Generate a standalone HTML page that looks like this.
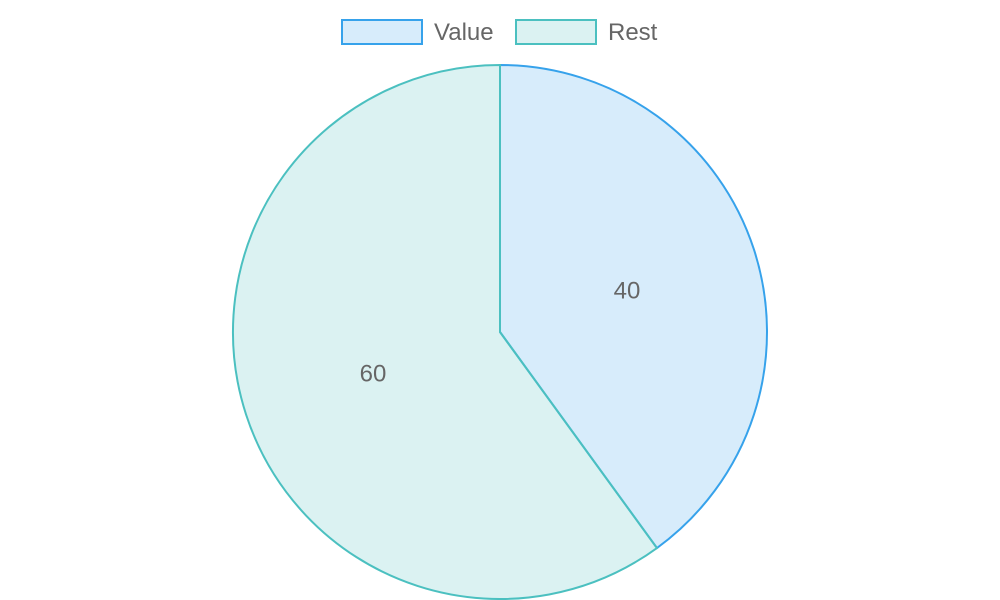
<!DOCTYPE html>
<html><head><meta charset="utf-8"><style>
html,body{margin:0;padding:0;background:#fff;}
svg{display:block;font-family:"Liberation Sans",sans-serif;}
</style></head><body>
<svg id="chart" width="1000" height="600">
<g id="legend"></g>
<g id="slices"></g>
<g id="labels"></g>
</svg>
<script>
const categories = ["Value", "Rest"];
const values = [40, 60];
const fills = ["rgba(54,162,235,0.2)", "rgba(75,192,192,0.2)"];
const strokes = ["#36a2eb", "#4bc0c0"];
const NS = "http://www.w3.org/2000/svg";
const cx = 500, cy = 332, r = 267;
const total = values.reduce((a,b)=>a+b,0);
const slicesG = document.getElementById('slices');
const labelsG = document.getElementById('labels');
const legendG = document.getElementById('legend');
function pt(a, rr){ return [cx + rr*Math.sin(a), cy - rr*Math.cos(a)]; }
let start = 0;
const angles = [];
values.forEach((v,i)=>{ const sweep = v/total*2*Math.PI; angles.push([start, start+sweep]); start += sweep; });
values.forEach((v,i)=>{
  const [a0,a1] = angles[i];
  const p0 = pt(a0,r), p1 = pt(a1,r);
  const large = (a1-a0) > Math.PI ? 1 : 0;
  const path = document.createElementNS(NS,'path');
  path.setAttribute('d', `M${cx},${cy} L${p0[0]},${p0[1]} A${r},${r} 0 ${large} 1 ${p1[0]},${p1[1]} Z`);
  path.setAttribute('fill', fills[i]);
  path.setAttribute('stroke', strokes[i]);
  path.setAttribute('stroke-width', 2);
  
  
  slicesG.appendChild(path);
});
values.forEach((v,i)=>{
  const [a0,a1] = angles[i];
  const p = pt((a0+a1)/2, r/2);
  const t = document.createElementNS(NS,'text');
  t.setAttribute('x', p[0]); t.setAttribute('y', p[1]+8);
  t.setAttribute('text-anchor','middle');
  t.setAttribute('font-size','24'); t.setAttribute('fill','#666');
  t.textContent = v;
  
  
  labelsG.appendChild(t);
});
const legendX = [342, 516];
categories.forEach((c,i)=>{
  const g = document.createElementNS(NS,'g');
  
  
  const rect = document.createElementNS(NS,'rect');
  rect.setAttribute('x', legendX[i]); rect.setAttribute('y', 20);
  rect.setAttribute('width', 80); rect.setAttribute('height', 24);
  rect.setAttribute('fill', fills[i]); rect.setAttribute('stroke', strokes[i]); rect.setAttribute('stroke-width', 2);
  g.appendChild(rect);
  const t = document.createElementNS(NS,'text');
  t.setAttribute('x', legendX[i]+92); t.setAttribute('y', 40);
  t.setAttribute('font-size','24'); t.setAttribute('fill','#666');
  t.textContent = c;
  g.appendChild(t);
  legendG.appendChild(g);
});
</script>
</body></html>
